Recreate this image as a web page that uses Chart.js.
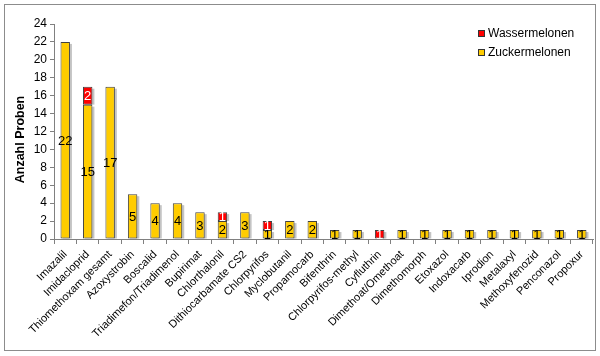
<!DOCTYPE html>
<html>
<head>
<meta charset="utf-8">
<script src="https://cdn.jsdelivr.net/npm/chart.js@4.4.1/dist/chart.umd.min.js"></script>
<style>
  html, body { margin: 0; padding: 0; background: #ffffff; }
  #wrap { width: 600px; height: 356px; position: relative; }
</style>
</head>
<body>
<div id="wrap"><canvas id="c" width="600" height="356"></canvas></div>
<script>
const categories = [
  "Imazalil", "Imidacloprid", "Thiomethoxam gesamt", "Azoxystrobin", "Boscalid",
  "Triadimefon/Triadimenol", "Bupirimat", "Chlorthalonil", "Dithiocarbamate CS2",
  "Chlorpyrifos", "Myclobutanil", "Propamocarb", "Bifenthrin", "Chlorpyrifos-methyl",
  "Cyfluthrin", "Dimethoat/Omethoat", "Dimethomorph", "Etoxazol", "Indoxacarb",
  "Iprodion", "Metalaxyl", "Methoxyfenozid", "Penconazol", "Propoxur"
];
const zuckermelonen = [22, 15, 17, 5, 4, 4, 3, 2, 3, 1, 2, 2, 1, 1, 0, 1, 1, 1, 1, 1, 1, 1, 1, 1];
const wassermelonen = [0, 2, 0, 0, 0, 0, 0, 1, 0, 1, 0, 0, 0, 0, 1, 0, 0, 0, 0, 0, 0, 0, 0, 0];
const yTicks = [0, 2, 4, 6, 8, 10, 12, 14, 16, 18, 20, 22, 24];
const yTitle = 'Anzahl Proben';

const FONT = "'Liberation Sans', Arial, sans-serif";

const framePlugin = {
  id: 'frame',
  beforeDraw(chart) {
    const ctx = chart.ctx;
    ctx.save();
    ctx.fillStyle = '#ffffff';
    ctx.fillRect(0, 0, chart.width, chart.height);
    ctx.strokeStyle = '#8c8c8c';
    ctx.lineWidth = 1;
    ctx.strokeRect(4.5, 4.5, 591, 346);
    ctx.restore();
  }
};

const yTitlePlugin = {
  id: 'yTitle',
  afterDraw(chart) {
    const ctx = chart.ctx;
    const area = chart.chartArea;
    ctx.save();
    ctx.translate(21, (area.top + area.bottom) / 2 + 8);
    ctx.rotate(-Math.PI / 2);
    ctx.font = 'bold 12.5px ' + FONT;
    ctx.fillStyle = '#000000';
    ctx.textAlign = 'center';
    ctx.textBaseline = 'middle';
    ctx.fillText(yTitle, 0, 0);
    ctx.restore();
  }
};

const shadowPlugin = {
  id: 'barShadow',
  beforeDatasetsDraw(chart) {
    const ctx = chart.ctx;
    ctx.save();
    ctx.fillStyle = '#c4c4c4';
    chart.data.datasets.forEach((ds, i) => {
      const meta = chart.getDatasetMeta(i);
      meta.data.forEach((bar, j) => {
        if (!ds.data[j]) return;
        const p = bar.getProps(['x', 'y', 'base', 'width'], true);
        const left = p.x - p.width / 2;
        ctx.fillRect(left + 2, p.y + 2, p.width, p.base - p.y - 2);
      });
    });
    ctx.restore();
  }
};

const labelPlugin = {
  id: 'valueLabels',
  afterDatasetsDraw(chart) {
    const ctx = chart.ctx;
    ctx.save();
    ctx.font = '13px ' + FONT;
    ctx.textAlign = 'center';
    ctx.textBaseline = 'middle';
    chart.data.datasets.forEach((ds, i) => {
      const meta = chart.getDatasetMeta(i);
      meta.data.forEach((bar, j) => {
        const v = ds.data[j];
        if (!v) return;
        const p = bar.getCenterPoint();
        ctx.fillStyle = ds.labelColor;
        ctx.fillText(String(v), p.x, p.y + 1);
      });
    });
    ctx.restore();
  }
};

const legendPlugin = {
  id: 'customLegend',
  afterDraw(chart) {
    const ctx = chart.ctx;
    const items = chart.data.datasets.slice().reverse();
    ctx.save();
    ctx.font = '12px ' + FONT;
    ctx.textAlign = 'left';
    ctx.textBaseline = 'middle';
    items.forEach((ds, k) => {
      const y = 34 + k * 19;
      ctx.fillStyle = ds.backgroundColor;
      ctx.fillRect(478.5, y - 3.5, 6, 6);
      ctx.strokeStyle = '#333333';
      ctx.lineWidth = 1;
      ctx.strokeRect(478.5, y - 3.5, 6, 6);
      ctx.fillStyle = '#000000';
      ctx.fillText(ds.label, 488, y);
    });
    ctx.restore();
  }
};

new Chart(document.getElementById('c'), {
  type: 'bar',
  data: {
    labels: categories,
    datasets: [
      {
        label: 'Zuckermelonen',
        data: zuckermelonen,
        backgroundColor: '#ffcc00',
        borderColor: '#404040',
        borderWidth: 1,
        borderSkipped: false,
        labelColor: '#000000',
        categoryPercentage: 1.0,
        barPercentage: 0.42
      },
      {
        label: 'Wassermelonen',
        data: wassermelonen,
        backgroundColor: '#ff0000',
        borderColor: '#404040',
        borderWidth: 1,
        borderSkipped: false,
        labelColor: '#ffffff',
        categoryPercentage: 1.0,
        barPercentage: 0.42
      }
    ]
  },
  options: {
    responsive: false,
    animation: false,
    layout: { padding: { top: 24, right: 7, left: 0, bottom: 0 } },
    plugins: {
      legend: { display: false },
      tooltip: { enabled: false }
    },
    scales: {
      x: {
        stacked: true,
        grid: { display: true, drawOnChartArea: false, tickLength: 5, color: '#808080', offset: true },
        border: { display: true, color: '#808080' },
        ticks: {
          autoSkip: false,
          minRotation: 45,
          maxRotation: 45,
          padding: 4,
          color: '#000000',
          font: { family: FONT, size: 11 }
        },
        afterFit(scale) { scale.height = 117; }
      },
      y: {
        stacked: true,
        min: 0,
        max: 24,
        afterBuildTicks(scale) { scale.ticks = yTicks.map(v => ({ value: v })); },
        grid: { display: true, drawOnChartArea: false, tickLength: 4, color: '#808080' },
        border: { display: true, color: '#808080' },
        ticks: {
          padding: 3,
          color: '#000000',
          font: { family: FONT, size: 12 }
        },
        title: { display: false },
        afterFit(scale) { scale.width = 54; }
      }
    }
  },
  plugins: [framePlugin, shadowPlugin, labelPlugin, legendPlugin, yTitlePlugin]
});
</script>
</body>
</html>
